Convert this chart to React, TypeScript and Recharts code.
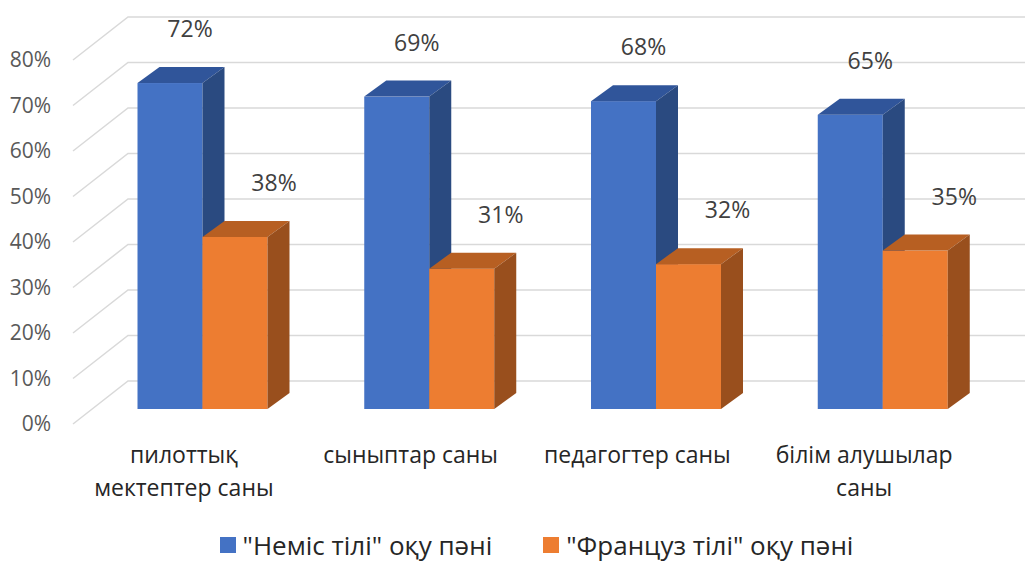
import React from 'react';
import { BarChart, Bar, XAxis, YAxis, CartesianGrid, LabelList, Legend } from 'recharts';

const categories = [
  'пилоттық мектептер саны',
  'сыныптар саны',
  'педагогтер саны',
  'білім алушылар саны',
];
const germanValues = [0.72, 0.69, 0.68, 0.65];
const frenchValues = [0.38, 0.31, 0.32, 0.35];
const yTicks = [0, 0.1, 0.2, 0.3, 0.4, 0.5, 0.6, 0.7, 0.8];
const seriesNames = ['"Неміс тілі" оқу пәні', '"Француз тілі" оқу пәні'];

const data = categories.map((name, i) => ({
  name,
  german: germanValues[i],
  french: frenchValues[i],
}));

const FONT = '"Open Sans", "Noto Sans", sans-serif';
const DX = 22;
const DY = 16;
const FRONT_SHIFT = 15;
const BAR_K = 0.995;
const BACK_X = 55;
const BACK_Y = 43;
const WRAP_CHARS = 15;

const pct = (v: number) => `${Math.round(v * 100)}%`;

const wrapWords = (s: string, max: number) => {
  const words = s.split(' ');
  const lines: string[] = [];
  let cur = '';
  words.forEach((w) => {
    const next = cur ? `${cur} ${w}` : w;
    if (next.length > max && cur) {
      lines.push(cur);
      cur = w;
    } else {
      cur = next;
    }
  });
  if (cur) lines.push(cur);
  return lines;
};

const make3D = (front: string, top: string, side: string) => (props: any) => {
  const { x, y, width, height } = props;
  if (x == null || y == null) return <g />;
  const bottom = y + height - FRONT_SHIFT;
  const h = height * BAR_K;
  const t = bottom - h;
  const r = x + width;
  return (
    <g>
      <rect x={x} y={t} width={width} height={h} fill={front} />
      <polygon points={`${x},${t} ${x + DX},${t - DY} ${r + DX},${t - DY} ${r},${t}`} fill={top} />
      <polygon points={`${r},${t} ${r + DX},${t - DY} ${r + DX},${bottom - DY} ${r},${bottom}`} fill={side} />
    </g>
  );
};

const makeLabel = (offX: number) => (props: any) => {
  const { x, y, width, height, value } = props;
  const bottom = Number(y) + Number(height) - FRONT_SHIFT;
  const t = bottom - Number(height) * BAR_K;
  return (
    <text
      x={Number(x) + Number(width) / 2 + offX}
      y={t - 55}
      textAnchor="middle"
      dominantBaseline="central"
      fill="#404040"
      fontSize={23}
      fontFamily={FONT}
    >
      {pct(Number(value))}
    </text>
  );
};

const gridLine = (props: any) => {
  const { x1, x2, y1, key } = props;
  return (
    <polyline
      key={key}
      points={`${x1},${y1} ${x1 + BACK_X},${y1 - BACK_Y} ${x2},${y1 - BACK_Y}`}
      fill="none"
      stroke="#d9d9d9"
      strokeWidth={1.5}
    />
  );
};

const CategoryTick = (props: any) => {
  const { x, y, payload } = props;
  const lines = wrapWords(String(payload.value), WRAP_CHARS);
  return (
    <text
      x={x - 19}
      y={y + 31}
      textAnchor="middle"
      fill="#262626"
      fontSize={23}
      fontFamily={FONT}
    >
      {lines.map((l, i) => (
        <tspan key={i} x={x - 19} dy={i === 0 ? 0 : 33}>
          {l}
        </tspan>
      ))}
    </text>
  );
};

const LegendContent = (props: any) => {
  const payload = props.payload || [];
  return (
    <div
      style={{
        width: 1025,
        height: 50,
        boxSizing: 'border-box',
        paddingTop: 14,
        paddingLeft: 48,
        display: 'flex',
        justifyContent: 'center',
        alignItems: 'flex-start',
        gap: 51,
        fontFamily: FONT,
        fontSize: 26,
        color: '#262626',
      }}
    >
      {payload.map((p: any, i: number) => (
        <div key={i} style={{ display: 'flex', alignItems: 'center', gap: 7, height: 36 }}>
          <div style={{ width: 16, height: 16, background: p.color }} />
          <span style={{ lineHeight: '36px', whiteSpace: 'nowrap' }}>{p.value}</span>
        </div>
      ))}
    </div>
  );
};

export default function App() {
  return (
    <div style={{ position: 'absolute', left: 0, top: 0, width: 1025, height: 563, background: '#fff' }}>
      <BarChart
        width={1025}
        height={563}
        data={data}
        margin={{ top: 60, right: 0, left: 0, bottom: 0 }}
        barGap={0}
        barSize={65}
      >
        <CartesianGrid vertical={false} horizontal={gridLine} />
        <YAxis
          width={73}
          domain={[0, 0.8]}
          ticks={yTicks}
          interval={0}
          tickFormatter={pct}
          axisLine={false}
          tickLine={false}
          tickMargin={16}
          tick={{ fill: '#595959', fontSize: 21, fontFamily: FONT }}
        />
        <XAxis
          dataKey="name"
          height={89}
          axisLine={false}
          tickLine={false}
          interval={0}
          padding={{ left: 16.5, right: 28.5 }}
          tick={<CategoryTick />}
        />
        <Legend
          verticalAlign="bottom"
          height={50}
          wrapperStyle={{ left: 0, bottom: 0, width: 1025, height: 50 }}
          content={<LegendContent />}
        />
        <Bar
          dataKey="german"
          name={seriesNames[0]}
          fill="#4472C4"
          isAnimationActive={false}
          shape={make3D('#4472C4', '#30559a', '#2a4a80')}
        >
          <LabelList dataKey="german" content={makeLabel(20)} />
        </Bar>
        <Bar
          dataKey="french"
          name={seriesNames[1]}
          fill="#ED7D31"
          isAnimationActive={false}
          shape={make3D('#ED7D31', '#b75f22', '#994f1d')}
        >
          <LabelList dataKey="french" content={makeLabel(39)} />
        </Bar>
      </BarChart>
    </div>
  );
}
